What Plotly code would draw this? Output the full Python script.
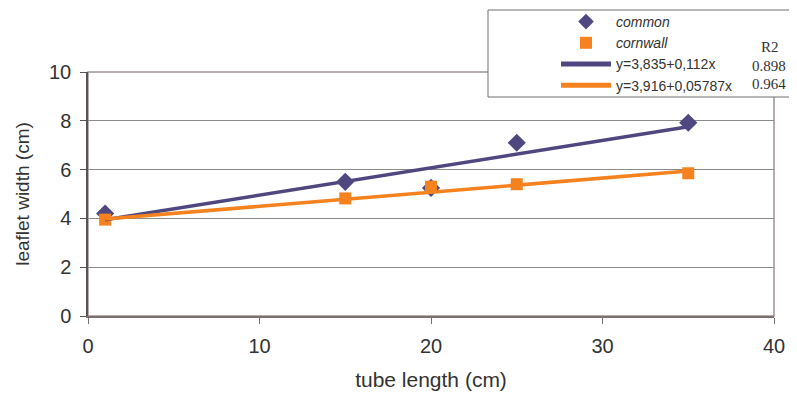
import plotly.graph_objects as go

# data
tube_length = [1, 15, 20, 25, 35]
common_width = [4.2, 5.5, 5.25, 7.1, 7.92]
cornwall_width = [3.95, 4.82, 5.3, 5.4, 5.85]

series_names = ["common", "cornwall"]
trend_labels = ["y=3,835+0,112x", "y=3,916+0,05787x"]
trend_intercepts = [3.835, 3.916]
trend_slopes = [0.112, 0.05787]
r2_values = ["0.898", "0.964"]

x_ticks = [0, 10, 20, 30, 40]
y_ticks = [0, 2, 4, 6, 8, 10]

PURPLE = "#4f4780"
ORANGE = "#f5821f"
FONT = "Liberation Sans, Arial, sans-serif"
SERIF = "Liberation Serif, Times New Roman, serif"

fig = go.Figure()

fig.add_trace(go.Scatter(
    x=tube_length, y=common_width, mode="markers", name="<i>" + series_names[0] + "</i>",
    marker=dict(symbol="diamond", size=14, color=PURPLE)))
fig.add_trace(go.Scatter(
    x=tube_length, y=cornwall_width, mode="markers", name="<i>" + series_names[1] + "</i>",
    marker=dict(symbol="square", size=12, color=ORANGE)))

colors = [PURPLE, ORANGE]
xs = [min(tube_length), max(tube_length)]
for i in range(2):
    ys = [trend_intercepts[i] + trend_slopes[i] * x for x in xs]
    fig.add_trace(go.Scatter(
        x=xs, y=ys, mode="lines", name=trend_labels[i],
        line=dict(color=colors[i], width=3.5)))

# page has an 8px body margin: figure coords = page coords - 8
W, H = 797, 394
OFF = 8
L, R, T, B = 88 - OFF, 797 - 774 + OFF, 72 - OFF, 394 - 316 + OFF
PW, PH = W - L - R, H - T - B


def px_x(p):  # page pixel -> paper
    return (p - OFF - L) / PW


def px_y(p):
    return (H - B - (p - OFF)) / PH


# plot-area border
fig.add_shape(type="rect", xref="paper", yref="paper", x0=0, x1=1, y0=0, y1=1,
              line=dict(color="#a09494", width=1.5), layer="below")
# legend box
fig.add_shape(type="rect", xref="paper", yref="paper",
              x0=px_x(488), x1=px_x(820), y0=px_y(97), y1=px_y(10),
              line=dict(color="#6e6e6e", width=1), fillcolor="white", layer="above")

# R2 column
fig.add_annotation(text="R2", xref="paper", yref="paper", x=px_x(770), y=px_y(47),
                   xanchor="center", yanchor="middle",
                   showarrow=False, font=dict(family=SERIF, size=15, color="#333333"))
for i, r in enumerate(r2_values):
    fig.add_annotation(text=r, xref="paper", yref="paper", x=px_x(769), y=px_y(66 + i * 18),
                       xanchor="center", yanchor="middle",
                       showarrow=False, font=dict(family=SERIF, size=15, color="#333333"))

fig.update_layout(
    width=W, height=H,
    margin=dict(l=L, r=R, t=T, b=B, autoexpand=False),
    paper_bgcolor="white", plot_bgcolor="white",
    font=dict(family=FONT, size=16, color="#333333"),
    showlegend=True,
    legend=dict(x=px_x(556), y=px_y(6), xanchor="left", yanchor="top",
                bgcolor="rgba(0,0,0,0)", borderwidth=0, itemwidth=50, itemsizing="constant",
                font=dict(family=FONT, size=14, color="#333333"), tracegroupgap=0),
    xaxis=dict(range=[0, 40], tickvals=x_ticks, showgrid=False, zeroline=False,
               showline=True, linecolor="#7a6f6f", linewidth=1.5,
               ticks="outside", ticklen=6, tickcolor="#7a6f6f", ticklabelstandoff=5,
               title=dict(text="tube length (cm)", standoff=17,
                          font=dict(family=FONT, size=21, color="#333333")),
               tickfont=dict(family=FONT, size=20, color="#333333")),
    yaxis=dict(range=[0, 10], tickvals=y_ticks, showgrid=True, gridcolor="#8a8a8a", gridwidth=1,
               zeroline=False, showline=True, linecolor="#555555", linewidth=1.5,
               ticks="outside", ticklen=6, tickcolor="#555555", ticklabelstandoff=5,
               title=dict(text="leaflet width (cm)", standoff=14,
                          font=dict(family=FONT, size=19, color="#333333")),
               tickfont=dict(family=FONT, size=20, color="#333333")),
)

fig.write_html("out.html")
